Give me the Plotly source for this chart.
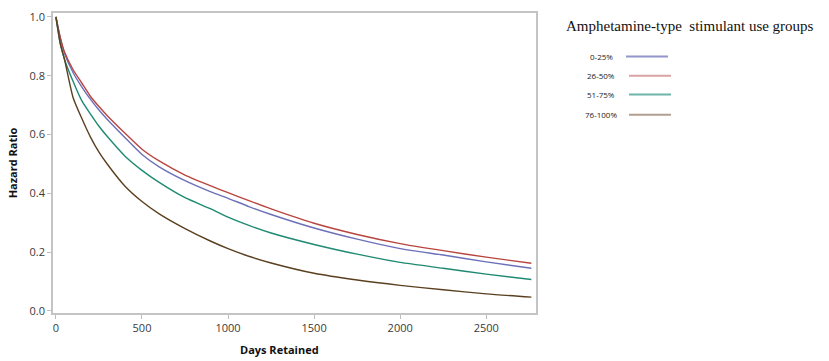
import plotly.graph_objects as go

days = [0, 25, 50, 100, 150, 200, 250, 300, 400, 500, 600, 750, 900, 1000, 1125, 1250, 1500, 1750, 2000, 2250, 2500, 2762]

groups = ["0-25%", "26-50%", "51-75%", "76-100%"]

hr_0_25 = [1.0, 0.93, 0.875, 0.81, 0.762, 0.72, 0.683, 0.65, 0.59, 0.532, 0.49, 0.443, 0.405, 0.383, 0.354, 0.328, 0.282, 0.244, 0.212, 0.19, 0.167, 0.145]
hr_26_50 = [1.0, 0.93, 0.88, 0.82, 0.775, 0.73, 0.695, 0.663, 0.605, 0.55, 0.51, 0.462, 0.425, 0.402, 0.374, 0.347, 0.298, 0.26, 0.229, 0.205, 0.183, 0.162]
hr_51_75 = [1.0, 0.91, 0.855, 0.78, 0.715, 0.67, 0.628, 0.592, 0.527, 0.478, 0.437, 0.385, 0.347, 0.319, 0.29, 0.265, 0.226, 0.193, 0.165, 0.145, 0.125, 0.107]
hr_76_100 = [1.0, 0.91, 0.855, 0.725, 0.655, 0.592, 0.54, 0.498, 0.425, 0.372, 0.33, 0.28, 0.237, 0.212, 0.185, 0.163, 0.128, 0.105, 0.087, 0.072, 0.058, 0.047]

x_ticks = [0, 500, 1000, 1500, 2000, 2500]
y_ticks = [0.0, 0.2, 0.4, 0.6, 0.8, 1.0]

series = [hr_0_25, hr_26_50, hr_51_75, hr_76_100]
line_colors = ["#6b70b8", "#b8453f", "#1e8a72", "#5b4020"]
legend_colors = ["#9296cc", "#d9a3a3", "#6db5aa", "#b29f90"]

W, H = 829, 361
ML, MR, MT, MB = 53, 293, 9, 48
PW, PH = W - ML - MR, H - MT - MB


def px_x(p):
    return (p - ML) / PW


def px_y(p):
    return 1 - (p - MT) / PH


fig = go.Figure()
for name, vals, col in zip(groups, series, line_colors):
    fig.add_trace(go.Scatter(x=days, y=vals, mode="lines", name=name,
                             line=dict(color=col, width=1.4, shape="spline", smoothing=0.6),
                             showlegend=False))

ax_font = dict(family="Open Sans, Noto Sans, sans-serif", size=11, color="#3a3a3a")

anns = [dict(x=px_x(690), y=px_y(22), xref="paper", yref="paper",
             text="Amphetamine-type  stimulant use groups", showarrow=False,
             font=dict(family="Liberation Serif, Times New Roman, serif", size=15, color="#111"),
             xanchor="center", yanchor="middle"),
        dict(x=px_x(279), y=px_y(350), xref="paper", yref="paper", text="<b>Days Retained</b>",
             showarrow=False, font=dict(family="Open Sans, sans-serif", size=11, color="#111"),
             xanchor="center", yanchor="middle")]
shapes = []
legend_y = [53, 72.5, 91.5, 112]
for name, col, ly in zip(groups, legend_colors, legend_y):
    anns.append(dict(x=px_x(601), y=px_y(ly), xref="paper", yref="paper", text=name, showarrow=False,
                     font=dict(family="Open Sans, sans-serif", size=8, color="#222"),
                     xanchor="center", yanchor="middle"))
    x0 = 626 if name == groups[0] else 629
    shapes.append(dict(type="line", xref="paper", yref="paper", x0=px_x(x0), x1=px_x(x0 + 42),
                       y0=px_y(ly), y1=px_y(ly), line=dict(color=col, width=2)))

fig.update_layout(
    width=W, height=H,
    paper_bgcolor="white", plot_bgcolor="white",
    margin=dict(l=ML, r=MR, t=MT, b=MB),
    xaxis=dict(range=[-17, 2789], tickvals=x_ticks, ticks="outside", ticklen=4, tickcolor="#bdbdbd",
               showline=True, linecolor="#c4c4c4", linewidth=1.5, mirror=True, showgrid=False,
               zeroline=False, tickfont=ax_font),
    yaxis=dict(range=[-0.007, 1.013], tickvals=y_ticks, tickformat=".1f", ticks="outside", ticklen=4,
               tickcolor="#bdbdbd", showline=True, linecolor="#c4c4c4", linewidth=1.5, mirror=True,
               showgrid=False, zeroline=False, tickfont=ax_font,
               title=dict(text="<b>Hazard Ratio</b>", font=dict(family="Open Sans, sans-serif", size=11, color="#111"),
                          standoff=10)),
    annotations=anns,
    shapes=shapes,
)

fig.write_html("out.html", config={"displayModeBar": False},
               post_script="document.body.style.margin='0';")
